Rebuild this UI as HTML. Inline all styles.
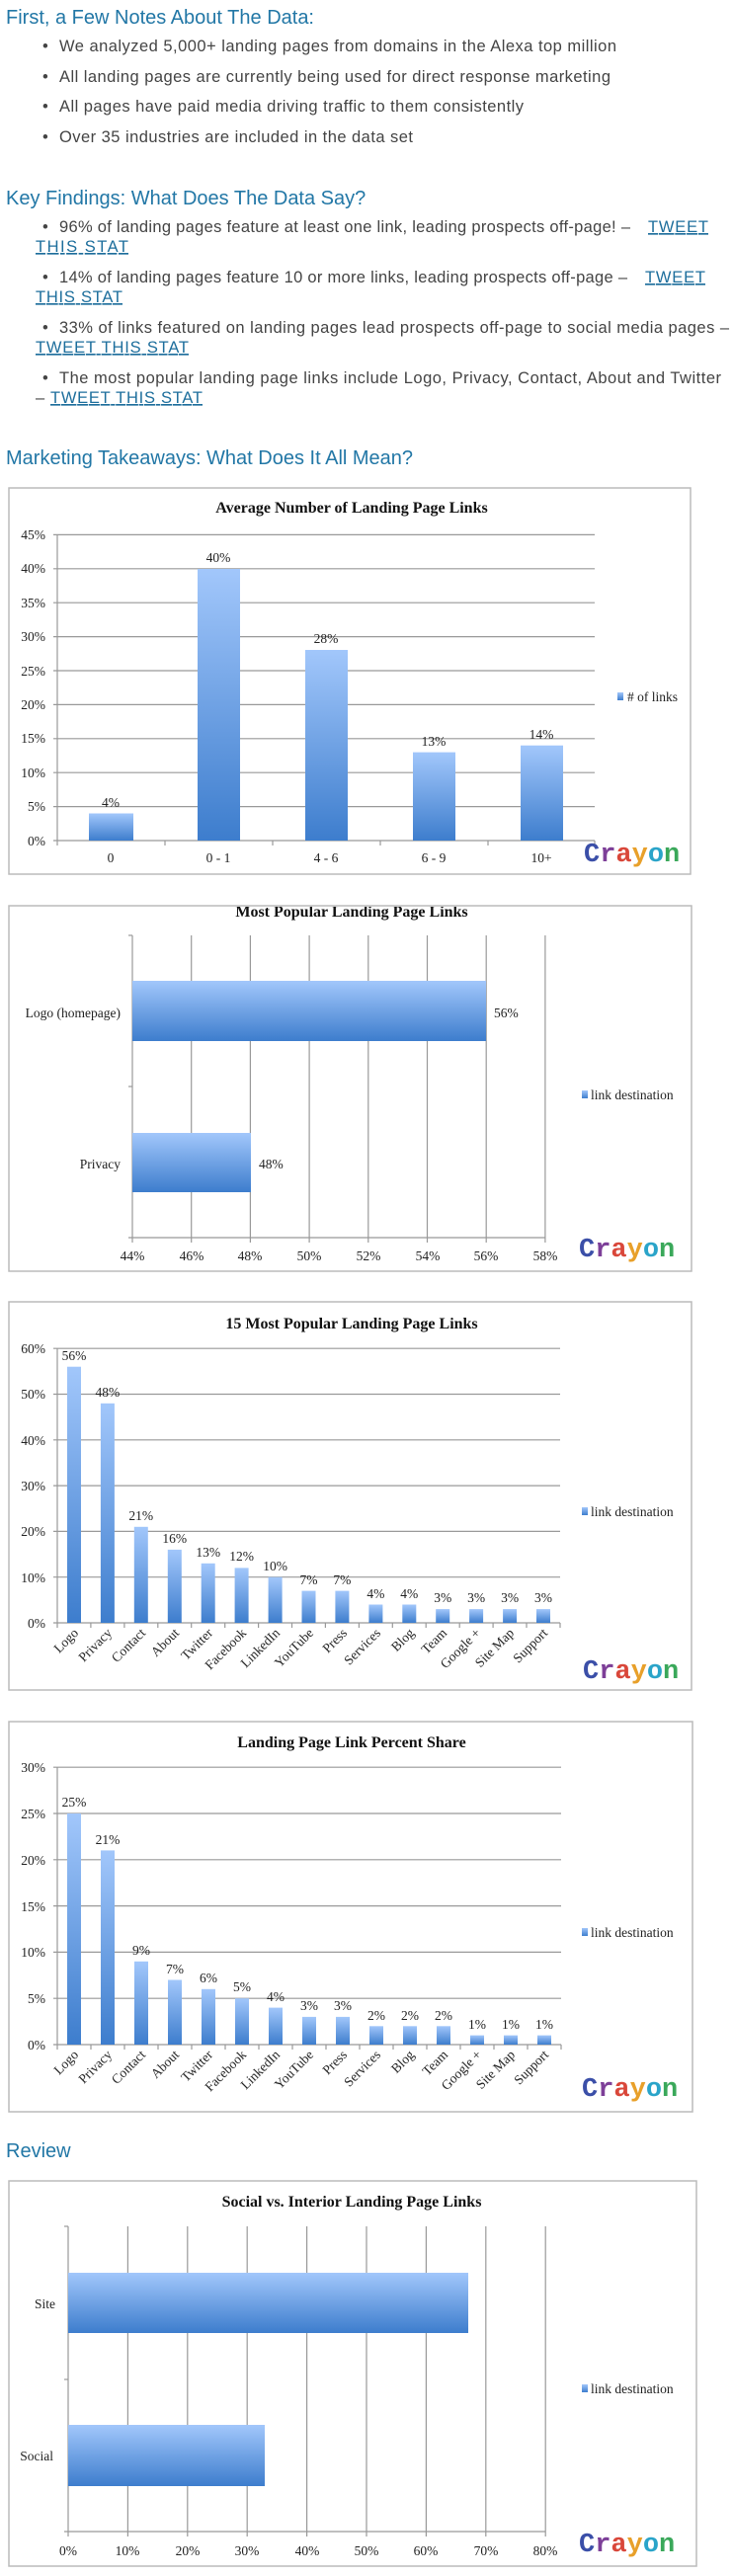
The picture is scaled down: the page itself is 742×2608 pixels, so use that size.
<!DOCTYPE html>
<html><head><meta charset="utf-8"><style>
html,body{margin:0;padding:0;background:#fff;width:742px;height:2608px;overflow:hidden}
svg{display:block}
.h{font-family:"Liberation Sans",sans-serif;font-size:20px;fill:#2277a6}
.t{font-family:"Liberation Sans",sans-serif;font-size:16.5px;fill:#444}
.l{fill:#1d6e9c;text-decoration:underline}
.c{font-family:"Liberation Serif",serif;font-size:13.5px;fill:#222}
.ti{font-family:"Liberation Serif",serif;font-size:16px;font-weight:bold;fill:#111}
.g{stroke:#999;stroke-width:1.2}
.box{fill:#fff;stroke:#bbb;stroke-width:1.5}
.cr{font-family:"Liberation Mono",monospace;font-weight:bold;font-size:27px}
</style></head><body>
<svg width="742" height="2608" viewBox="0 0 742 2608" xmlns="http://www.w3.org/2000/svg">
<defs>
<linearGradient id="gv" x1="0" y1="0" x2="0" y2="1"><stop offset="0" stop-color="#a2c7fb"/><stop offset="1" stop-color="#3d7dcd"/></linearGradient>
<g id="crayon"><text class="cr" x="0" y="0"><tspan fill="#3b4fa8">C</tspan><tspan fill="#7d3f98">r</tspan><tspan fill="#d9473a">a</tspan><tspan fill="#e8a02a">y</tspan><tspan fill="#2aa4c9">o</tspan><tspan fill="#3aa85a">n</tspan></text></g>
</defs>

<!-- Text section -->
<text class="h" x="6" y="24">First, a Few Notes About The Data:</text>
<text class="t" x="43" y="52">•</text><text class="t" x="60" y="52" textLength="564">We analyzed 5,000+ landing pages from domains in the Alexa top million</text>
<text class="t" x="43" y="83">•</text><text class="t" x="60" y="83" textLength="558">All landing pages are currently being used for direct response marketing</text>
<text class="t" x="43" y="113">•</text><text class="t" x="60" y="113" textLength="470">All pages have paid media driving traffic to them consistently</text>
<text class="t" x="43" y="144">•</text><text class="t" x="60" y="144" textLength="358">Over 35 industries are included in the data set</text>

<text class="h" x="6" y="207">Key Findings: What Does The Data Say?</text>
<text class="t" x="43" y="235">•</text><text class="t" x="60" y="235" textLength="578">96% of landing pages feature at least one link, leading prospects off-page! –</text><text class="t l" x="656" y="235" textLength="61">TWEET</text>
<text class="t l" x="36" y="255" textLength="94">THIS STAT </text>
<text class="t" x="43" y="286">•</text><text class="t" x="60" y="286" textLength="575">14% of landing pages feature 10 or more links, leading prospects off-page –</text><text class="t l" x="653" y="286" textLength="61">TWEET</text>
<text class="t l" x="36" y="306" textLength="88">THIS STAT</text>
<text class="t" x="43" y="337">•</text><text class="t" x="60" y="337" textLength="678">33% of links featured on landing pages lead prospects off-page to social media pages –</text>
<text class="t l" x="36" y="357" textLength="155">TWEET THIS STAT</text>
<text class="t" x="43" y="388">•</text><text class="t" x="60" y="388" textLength="670">The most popular landing page links include Logo, Privacy, Contact, About and Twitter</text>
<text class="t" x="36" y="408">–</text><text class="t l" x="51" y="408" textLength="154">TWEET THIS STAT</text>

<text class="h" x="6" y="470">Marketing Takeaways: What Does It All Mean?</text>

<!-- Chart 1 -->
<rect class="box" x="9" y="494" width="690" height="391"/>
<text class="ti" x="356" y="519" text-anchor="middle">Average Number of Landing Page Links</text>
<g class="g">
<line x1="54" y1="851" x2="602" y2="851"/><line x1="54" y1="816.6" x2="602" y2="816.6"/><line x1="54" y1="782.2" x2="602" y2="782.2"/><line x1="54" y1="747.8" x2="602" y2="747.8"/><line x1="54" y1="713.4" x2="602" y2="713.4"/><line x1="54" y1="679" x2="602" y2="679"/><line x1="54" y1="644.6" x2="602" y2="644.6"/><line x1="54" y1="610.2" x2="602" y2="610.2"/><line x1="54" y1="575.8" x2="602" y2="575.8"/><line x1="54" y1="541.4" x2="602" y2="541.4"/>
<line x1="58" y1="541" x2="58" y2="856"/>
<line x1="167" y1="851" x2="167" y2="856"/><line x1="276" y1="851" x2="276" y2="856"/><line x1="385" y1="851" x2="385" y2="856"/><line x1="494" y1="851" x2="494" y2="856"/><line x1="602" y1="851" x2="602" y2="856"/>
</g>
<g class="c" text-anchor="end">
<text x="46" y="856">0%</text><text x="46" y="821">5%</text><text x="46" y="787">10%</text><text x="46" y="752">15%</text><text x="46" y="718">20%</text><text x="46" y="684">25%</text><text x="46" y="649">30%</text><text x="46" y="615">35%</text><text x="46" y="580">40%</text><text x="46" y="546">45%</text>
</g>
<g fill="url(#gv)">
<rect x="90" y="823.5" width="45" height="27.5"/><rect x="200" y="576" width="43" height="275"/><rect x="309" y="658" width="43" height="193"/><rect x="418" y="761.6" width="43" height="89.4"/><rect x="527" y="754.7" width="43" height="96.3"/>
</g>
<g class="c" text-anchor="middle">
<text x="112" y="817">4%</text><text x="221" y="569">40%</text><text x="330" y="651">28%</text><text x="439" y="755">13%</text><text x="548" y="748">14%</text>
<text x="112" y="873">0</text><text x="221" y="873">0 - 1</text><text x="330" y="873">4 - 6</text><text x="439" y="873">6 - 9</text><text x="548" y="873">10+</text>
</g>
<rect x="625" y="701" width="6" height="8" fill="url(#gv)"/><text class="c" x="635" y="710">#  of links</text>
<use href="#crayon" x="591" y="872"/>

<!-- Chart 2 -->
<rect class="box" x="9" y="917" width="691" height="370"/>
<svg x="9" y="918" width="691" height="20" overflow="hidden"><text class="ti" x="347" y="10" text-anchor="middle">Most Popular Landing Page Links</text></svg>
<g class="g">
<line x1="134" y1="947" x2="134" y2="1258"/><line x1="193.7" y1="947" x2="193.7" y2="1258"/><line x1="253.4" y1="947" x2="253.4" y2="1258"/><line x1="313.1" y1="947" x2="313.1" y2="1258"/><line x1="372.8" y1="947" x2="372.8" y2="1258"/><line x1="432.5" y1="947" x2="432.5" y2="1258"/><line x1="492.2" y1="947" x2="492.2" y2="1258"/><line x1="551.9" y1="947" x2="551.9" y2="1258"/>
<line x1="130" y1="1253" x2="552" y2="1253"/><line x1="130" y1="947" x2="134" y2="947"/><line x1="130" y1="1100" x2="134" y2="1100"/>
</g>
<g fill="url(#gv)"><rect x="134" y="993" width="358" height="61"/><rect x="134" y="1147" width="120" height="60"/></g>
<g class="c">
<text x="122" y="1030" text-anchor="end">Logo (homepage)</text><text x="122" y="1183" text-anchor="end">Privacy</text>
<text x="500" y="1030">56%</text><text x="262" y="1183">48%</text>
</g>
<g class="c" text-anchor="middle">
<text x="134" y="1276">44%</text><text x="194" y="1276">46%</text><text x="253" y="1276">48%</text><text x="313" y="1276">50%</text><text x="373" y="1276">52%</text><text x="433" y="1276">54%</text><text x="492" y="1276">56%</text><text x="552" y="1276">58%</text>
</g>
<rect x="589" y="1104" width="6" height="8" fill="url(#gv)"/><text class="c" x="598" y="1113">link destination</text>
<use href="#crayon" x="586" y="1272"/>

<!-- Chart 3 -->
<rect class="box" x="9" y="1318" width="691" height="393"/>
<text class="ti" x="356" y="1345" text-anchor="middle">15 Most Popular Landing Page Links</text>
<g class="g">
<line x1="54" y1="1643" x2="567" y2="1643"/><line x1="54" y1="1596.7" x2="567" y2="1596.7"/><line x1="54" y1="1550.4" x2="567" y2="1550.4"/><line x1="54" y1="1504.1" x2="567" y2="1504.1"/><line x1="54" y1="1457.8" x2="567" y2="1457.8"/><line x1="54" y1="1411.5" x2="567" y2="1411.5"/><line x1="54" y1="1365.2" x2="567" y2="1365.2"/>
<line x1="58" y1="1365" x2="58" y2="1648"/>
<line x1="91.9" y1="1643" x2="91.9" y2="1648"/><line x1="125.9" y1="1643" x2="125.9" y2="1648"/><line x1="159.8" y1="1643" x2="159.8" y2="1648"/><line x1="193.7" y1="1643" x2="193.7" y2="1648"/><line x1="227.7" y1="1643" x2="227.7" y2="1648"/><line x1="261.6" y1="1643" x2="261.6" y2="1648"/><line x1="295.5" y1="1643" x2="295.5" y2="1648"/><line x1="329.4" y1="1643" x2="329.4" y2="1648"/><line x1="363.4" y1="1643" x2="363.4" y2="1648"/><line x1="397.3" y1="1643" x2="397.3" y2="1648"/><line x1="431.2" y1="1643" x2="431.2" y2="1648"/><line x1="465.2" y1="1643" x2="465.2" y2="1648"/><line x1="499.1" y1="1643" x2="499.1" y2="1648"/><line x1="533" y1="1643" x2="533" y2="1648"/><line x1="567" y1="1643" x2="567" y2="1648"/>
</g>
<g class="c" text-anchor="end">
<text x="46" y="1648">0%</text><text x="46" y="1602">10%</text><text x="46" y="1555">20%</text><text x="46" y="1509">30%</text><text x="46" y="1463">40%</text><text x="46" y="1416">50%</text><text x="46" y="1370">60%</text>
</g>
<g fill="url(#gv)">
<rect x="68" y="1383.7" width="14" height="259.3"/><rect x="101.9" y="1420.8" width="14" height="222.2"/><rect x="135.8" y="1545.8" width="14" height="97.2"/><rect x="169.8" y="1568.9" width="14" height="74.1"/><rect x="203.7" y="1582.8" width="14" height="60.2"/><rect x="237.6" y="1587.4" width="14" height="55.6"/><rect x="271.6" y="1596.7" width="14" height="46.3"/><rect x="305.5" y="1610.6" width="14" height="32.4"/><rect x="339.4" y="1610.6" width="14" height="32.4"/><rect x="373.4" y="1624.5" width="14" height="18.5"/><rect x="407.3" y="1624.5" width="14" height="18.5"/><rect x="441.2" y="1629.1" width="14" height="13.9"/><rect x="475.1" y="1629.1" width="14" height="13.9"/><rect x="509.1" y="1629.1" width="14" height="13.9"/><rect x="543" y="1629.1" width="14" height="13.9"/>
</g>
<g class="c" text-anchor="middle">
<text x="75" y="1377">56%</text><text x="108.9" y="1414">48%</text><text x="142.8" y="1539">21%</text><text x="176.8" y="1562">16%</text><text x="210.7" y="1576">13%</text><text x="244.6" y="1580">12%</text><text x="278.6" y="1590">10%</text><text x="312.5" y="1604">7%</text><text x="346.4" y="1604">7%</text><text x="380.4" y="1618">4%</text><text x="414.3" y="1618">4%</text><text x="448.2" y="1622">3%</text><text x="482.1" y="1622">3%</text><text x="516.1" y="1622">3%</text><text x="550" y="1622">3%</text>
</g>
<g class="c" text-anchor="end">
<text transform="translate(80,1654) rotate(-45)">Logo</text><text transform="translate(114,1654) rotate(-45)">Privacy</text><text transform="translate(148,1654) rotate(-45)">Contact</text><text transform="translate(182,1654) rotate(-45)">About</text><text transform="translate(216,1654) rotate(-45)">Twitter</text><text transform="translate(250,1654) rotate(-45)">Facebook</text><text transform="translate(284,1654) rotate(-45)">LinkedIn</text><text transform="translate(318,1654) rotate(-45)">YouTube</text><text transform="translate(352,1654) rotate(-45)">Press</text><text transform="translate(386,1654) rotate(-45)">Services</text><text transform="translate(420,1654) rotate(-45)">Blog</text><text transform="translate(453,1654) rotate(-45)">Team</text><text transform="translate(487,1654) rotate(-45)">Google +</text><text transform="translate(521,1654) rotate(-45)">Site Map</text><text transform="translate(555,1654) rotate(-45)">Support</text>
</g>
<rect x="589" y="1526" width="6" height="8" fill="url(#gv)"/><text class="c" x="598" y="1535">link destination</text>
<use href="#crayon" x="590" y="1699"/>

<!-- Chart 4 -->
<rect class="box" x="9" y="1743" width="692" height="395"/>
<text class="ti" x="356" y="1769" text-anchor="middle">Landing Page Link Percent Share</text>
<g class="g">
<line x1="54" y1="2070" x2="568" y2="2070"/><line x1="54" y1="2023.2" x2="568" y2="2023.2"/><line x1="54" y1="1976.4" x2="568" y2="1976.4"/><line x1="54" y1="1929.6" x2="568" y2="1929.6"/><line x1="54" y1="1882.8" x2="568" y2="1882.8"/><line x1="54" y1="1836" x2="568" y2="1836"/><line x1="54" y1="1789.2" x2="568" y2="1789.2"/>
<line x1="58" y1="1789" x2="58" y2="2075"/>
<line x1="92" y1="2070" x2="92" y2="2075"/><line x1="126" y1="2070" x2="126" y2="2075"/><line x1="160" y1="2070" x2="160" y2="2075"/><line x1="194" y1="2070" x2="194" y2="2075"/><line x1="228" y1="2070" x2="228" y2="2075"/><line x1="262" y1="2070" x2="262" y2="2075"/><line x1="296" y1="2070" x2="296" y2="2075"/><line x1="330" y1="2070" x2="330" y2="2075"/><line x1="364" y1="2070" x2="364" y2="2075"/><line x1="398" y1="2070" x2="398" y2="2075"/><line x1="432" y1="2070" x2="432" y2="2075"/><line x1="466" y1="2070" x2="466" y2="2075"/><line x1="500" y1="2070" x2="500" y2="2075"/><line x1="534" y1="2070" x2="534" y2="2075"/><line x1="568" y1="2070" x2="568" y2="2075"/>
</g>
<g class="c" text-anchor="end">
<text x="46" y="2075">0%</text><text x="46" y="2028">5%</text><text x="46" y="1981">10%</text><text x="46" y="1935">15%</text><text x="46" y="1888">20%</text><text x="46" y="1841">25%</text><text x="46" y="1794">30%</text>
</g>
<g fill="url(#gv)">
<rect x="68" y="1836" width="14" height="234"/><rect x="102" y="1873.4" width="14" height="196.6"/><rect x="136" y="1985.8" width="14" height="84.2"/><rect x="170" y="2004.5" width="14" height="65.5"/><rect x="204" y="2013.8" width="14" height="56.2"/><rect x="238" y="2023.2" width="14" height="46.8"/><rect x="272" y="2032.6" width="14" height="37.4"/><rect x="306" y="2041.9" width="14" height="28.1"/><rect x="340" y="2041.9" width="14" height="28.1"/><rect x="374" y="2051.3" width="14" height="18.7"/><rect x="408" y="2051.3" width="14" height="18.7"/><rect x="442" y="2051.3" width="14" height="18.7"/><rect x="476" y="2060.6" width="14" height="9.4"/><rect x="510" y="2060.6" width="14" height="9.4"/><rect x="544" y="2060.6" width="14" height="9.4"/>
</g>
<g class="c" text-anchor="middle">
<text x="75" y="1829">25%</text><text x="109" y="1867">21%</text><text x="143" y="1979">9%</text><text x="177" y="1998">7%</text><text x="211" y="2007">6%</text><text x="245" y="2016">5%</text><text x="279" y="2026">4%</text><text x="313" y="2035">3%</text><text x="347" y="2035">3%</text><text x="381" y="2045">2%</text><text x="415" y="2045">2%</text><text x="449" y="2045">2%</text><text x="483" y="2054">1%</text><text x="517" y="2054">1%</text><text x="551" y="2054">1%</text>
</g>
<g class="c" text-anchor="end">
<text transform="translate(80,2081) rotate(-45)">Logo</text><text transform="translate(114,2081) rotate(-45)">Privacy</text><text transform="translate(148,2081) rotate(-45)">Contact</text><text transform="translate(182,2081) rotate(-45)">About</text><text transform="translate(216,2081) rotate(-45)">Twitter</text><text transform="translate(250,2081) rotate(-45)">Facebook</text><text transform="translate(284,2081) rotate(-45)">LinkedIn</text><text transform="translate(318,2081) rotate(-45)">YouTube</text><text transform="translate(352,2081) rotate(-45)">Press</text><text transform="translate(386,2081) rotate(-45)">Services</text><text transform="translate(420,2081) rotate(-45)">Blog</text><text transform="translate(454,2081) rotate(-45)">Team</text><text transform="translate(488,2081) rotate(-45)">Google +</text><text transform="translate(522,2081) rotate(-45)">Site Map</text><text transform="translate(556,2081) rotate(-45)">Support</text>
</g>
<rect x="589" y="1952" width="6" height="8" fill="url(#gv)"/><text class="c" x="598" y="1961">link destination</text>
<use href="#crayon" x="589" y="2122"/>

<!-- Review -->
<text class="h" x="6" y="2184">Review</text>
<rect class="box" x="9" y="2208" width="696" height="390"/>
<text class="ti" x="356" y="2234" text-anchor="middle">Social vs. Interior Landing Page Links</text>
<g class="g">
<line x1="69" y1="2254" x2="69" y2="2568"/><line x1="129.4" y1="2254" x2="129.4" y2="2568"/><line x1="189.8" y1="2254" x2="189.8" y2="2568"/><line x1="250.2" y1="2254" x2="250.2" y2="2568"/><line x1="310.6" y1="2254" x2="310.6" y2="2568"/><line x1="371" y1="2254" x2="371" y2="2568"/><line x1="431.4" y1="2254" x2="431.4" y2="2568"/><line x1="491.8" y1="2254" x2="491.8" y2="2568"/><line x1="552.2" y1="2254" x2="552.2" y2="2568"/>
<line x1="65" y1="2563" x2="552" y2="2563"/><line x1="65" y1="2254" x2="69" y2="2254"/><line x1="65" y1="2409" x2="69" y2="2409"/>
</g>
<g fill="url(#gv)"><rect x="69" y="2301" width="405" height="61"/><rect x="69" y="2455" width="199" height="62"/></g>
<g class="c">
<text x="56" y="2337" text-anchor="end">Site</text><text x="54" y="2491" text-anchor="end">Social</text>
</g>
<g class="c" text-anchor="middle">
<text x="69" y="2587">0%</text><text x="129" y="2587">10%</text><text x="190" y="2587">20%</text><text x="250" y="2587">30%</text><text x="311" y="2587">40%</text><text x="371" y="2587">50%</text><text x="431" y="2587">60%</text><text x="492" y="2587">70%</text><text x="552" y="2587">80%</text>
</g>
<rect x="589" y="2414" width="6" height="8" fill="url(#gv)"/><text class="c" x="598" y="2423">link destination</text>
<use href="#crayon" x="586" y="2583"/>
</svg>
</body></html>
